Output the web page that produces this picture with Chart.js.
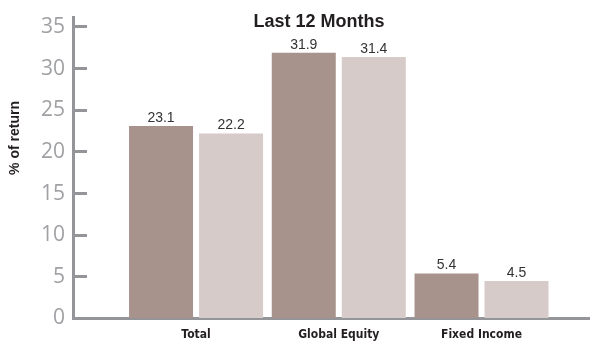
<!DOCTYPE html>
<html lang="en">
<head>
  <meta charset="UTF-8" />
  <title>Last 12 Months</title>
  <script src="https://cdn.jsdelivr.net/npm/chart.js"></script>
  <style>
    body {
      margin: 0;
      background: #ffffff;
    }
    canvas {
      display: block;
    }
  </style>
</head>
<body>
  <canvas id="returnsChart" width="590" height="341"></canvas>

  <script>
    // Categories sit at whole numbers on a linear x axis so the plot can start at the y axis line
    const categories = ["Total", "Global Equity", "Fixed Income"];
    const categoryPositions = [1, 2, 3];
    const seriesA = [23.1, 31.9, 5.4];
    const seriesB = [22.2, 31.4, 4.5];
    const yTicks = [0, 5, 10, 15, 20, 25, 30, 35];

    const axisGray = "#939598";
    const textDark = "#231f20";

    const toPoints = values => values.map((v, i) => ({ x: categoryPositions[i], y: v }));

    // value labels above each bar, title and rotated y label
    const annotate = {
      id: "annotate",
      afterDatasetsDraw(chart) {
        const ctx = chart.ctx;
        ctx.save();
        ctx.font = "14px 'Liberation Sans', Arial, sans-serif";
        ctx.fillStyle = "#333333";
        ctx.textAlign = "center";
        ctx.textBaseline = "bottom";
        chart.data.datasets.forEach((ds, di) => {
          chart.getDatasetMeta(di).data.forEach((bar, i) => {
            ctx.fillText(ds.data[i].y.toFixed(1), bar.x, bar.y - 1);
          });
        });

        ctx.font = "bold 18px 'Liberation Sans', Arial, sans-serif";
        ctx.fillStyle = textDark;
        ctx.textBaseline = "alphabetic";
        ctx.fillText("Last 12 Months", 319, 27);

        ctx.translate(19, 138);
        ctx.rotate(-Math.PI / 2);
        ctx.font = "bold 14px 'Liberation Sans', Arial, sans-serif";
        ctx.textBaseline = "alphabetic";
        ctx.fillText("% of return", 0, 0);
        ctx.restore();
      }
    };

    new Chart(document.getElementById("returnsChart"), {
      type: "bar",
      data: {
        datasets: [
          {
            label: "A",
            data: toPoints(seriesA),
            backgroundColor: "#a7928c"
          },
          {
            label: "B",
            data: toPoints(seriesB),
            backgroundColor: "#d6cbc8"
          }
        ]
      },
      options: {
        responsive: false,
        animation: false,
        categoryPercentage: 0.981,
        barPercentage: 0.914,
        layout: { padding: { top: 17, left: 0, right: 0, bottom: 0 } },
        plugins: {
          legend: { display: false },
          title: { display: false },
          tooltip: { enabled: false }
        },
        scales: {
          x: {
            type: "linear",
            offset: false,
            min: 0.138,
            max: 3.76,
            z: 1,
            afterBuildTicks: scale => {
              scale.ticks = categoryPositions.map(v => ({ value: v }));
            },
            afterFit: scale => {
              scale.height = 22.5;
              scale.paddingLeft = 0;
              scale.paddingRight = 0;
            },
            grid: { display: false, drawTicks: false, offset: false },
            border: { display: true, color: axisGray, width: 3 },
            ticks: {
              padding: 9,
              color: textDark,
              font: { family: "'Liberation Sans Narrow', 'DejaVu Sans Condensed', sans-serif", size: 12, weight: "bold" },
              callback: value => categories[categoryPositions.indexOf(value)] || ""
            }
          },
          y: {
            min: 0,
            max: 36.2,
            afterBuildTicks: scale => {
              scale.ticks = yTicks.map(v => ({ value: v }));
            },
            afterFit: scale => {
              scale.width = 73;
              scale.paddingTop = 0;
              scale.paddingBottom = 0;
            },
            grid: {
              drawOnChartArea: false,
              drawTicks: true,
              tickLength: -14,
              tickWidth: 3,
              tickColor: axisGray
            },
            border: { display: true, color: axisGray, width: 3 },
            ticks: {
              padding: 22,
              color: "#a0a1a4",
              font: { family: "'Open Sans', sans-serif", size: 21 }
            }
          }
        }
      },
      plugins: [annotate]
    });
  </script>
</body>
</html>
